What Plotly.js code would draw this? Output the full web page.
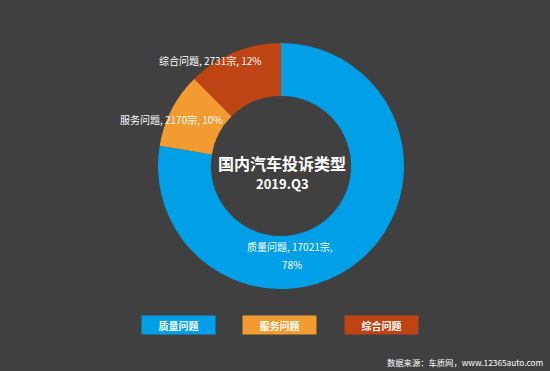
<!DOCTYPE html>
<html>
<head>
<meta charset="utf-8">
<script src="https://cdn.plot.ly/plotly-3.0.1.min.js"></script>
<style>html,body{margin:0;padding:0;background:#404040;}#chart{width:550px;height:371px;}</style>
</head>
<body>
<div id="chart"></div>
<script>
const categories = ['质量问题', '服务问题', '综合问题'];
const values = [17021, 2170, 2731];
const colors = ['#00A0E9', '#F29B30', '#BE4414'];
const titleMain = '国内汽车投诉类型';
const titleSub = '2019.Q3';
const sourceText = '数据来源：车质网，www.12365auto.com';

const total = values.reduce((a, b) => a + b, 0);
const pct = values.map(v => Math.round(v / total * 100) + '%');

const FONT = '"Noto Sans CJK SC", "Microsoft YaHei", sans-serif';

// label placement (paper coords) for each slice label line
const labelPos = [
  {x: 290 / 550, y: 1 - 246 / 371, text: categories[0] + ', ' + values[0] + '宗,'},
  {x: 292 / 550, y: 1 - 264 / 371, text: pct[0]},
  {x: 171 / 550, y: 1 - 120 / 371, text: categories[1] + ', ' + values[1] + '宗, ' + pct[1]},
  {x: 211 / 550, y: 1 - 61 / 371, text: categories[2] + ', ' + values[2] + '宗, ' + pct[2]}
];

const legendX = [178.5, 279.5, 381.5];

const annotations = [];
labelPos.forEach(p => annotations.push({
  xref: 'paper', yref: 'paper', x: p.x, y: p.y, xanchor: 'center', yanchor: 'middle',
  text: p.text, showarrow: false, font: {family: FONT, size: 10, color: '#ffffff'}, align: 'center'
}));
annotations.push({xref: 'paper', yref: 'paper', x: 282 / 550, y: 1 - 163 / 371, xanchor: 'center', yanchor: 'middle',
  text: '<b>' + titleMain + '</b>', showarrow: false, font: {family: FONT, size: 16, color: '#ffffff'}});
annotations.push({xref: 'paper', yref: 'paper', x: 282 / 550, y: 1 - 183 / 371, xanchor: 'center', yanchor: 'middle',
  text: '<b>' + titleSub + '</b>', showarrow: false, font: {family: FONT, size: 13, color: '#ffffff'}});
categories.forEach((c, i) => annotations.push({
  xref: 'paper', yref: 'paper', x: legendX[i] / 550, y: 1 - 325 / 371, xanchor: 'center', yanchor: 'middle',
  text: '<b>' + c + '</b>', showarrow: false, bgcolor: colors[i], width: 73, height: 18, borderpad: 0,
  font: {family: FONT, size: 10, color: '#ffffff'}
}));
annotations.push({xref: 'paper', yref: 'paper', x: 545 / 550, y: 1 - 362 / 371, xanchor: 'right', yanchor: 'middle',
  text: sourceText, showarrow: false, font: {family: FONT, size: 8.3, color: '#ffffff'}});

const data = [{
  type: 'pie',
  labels: categories,
  values: values,
  hole: 0.57,
  sort: false,
  direction: 'clockwise',
  rotation: 0,
  marker: {colors: colors, line: {width: 0}},
  textinfo: 'none',
  hoverinfo: 'none',
  showlegend: false,
  domain: {x: [158 / 550, 404 / 550], y: [1 - 289 / 371, 1 - 43 / 371]}
}];

const layout = {
  width: 550, height: 371,
  margin: {l: 0, r: 0, t: 0, b: 0},
  paper_bgcolor: '#404040',
  plot_bgcolor: '#404040',
  showlegend: false,
  annotations: annotations
};

Plotly.newPlot('chart', data, layout, {displayModeBar: false, staticPlot: true});
</script>
</body>
</html>
